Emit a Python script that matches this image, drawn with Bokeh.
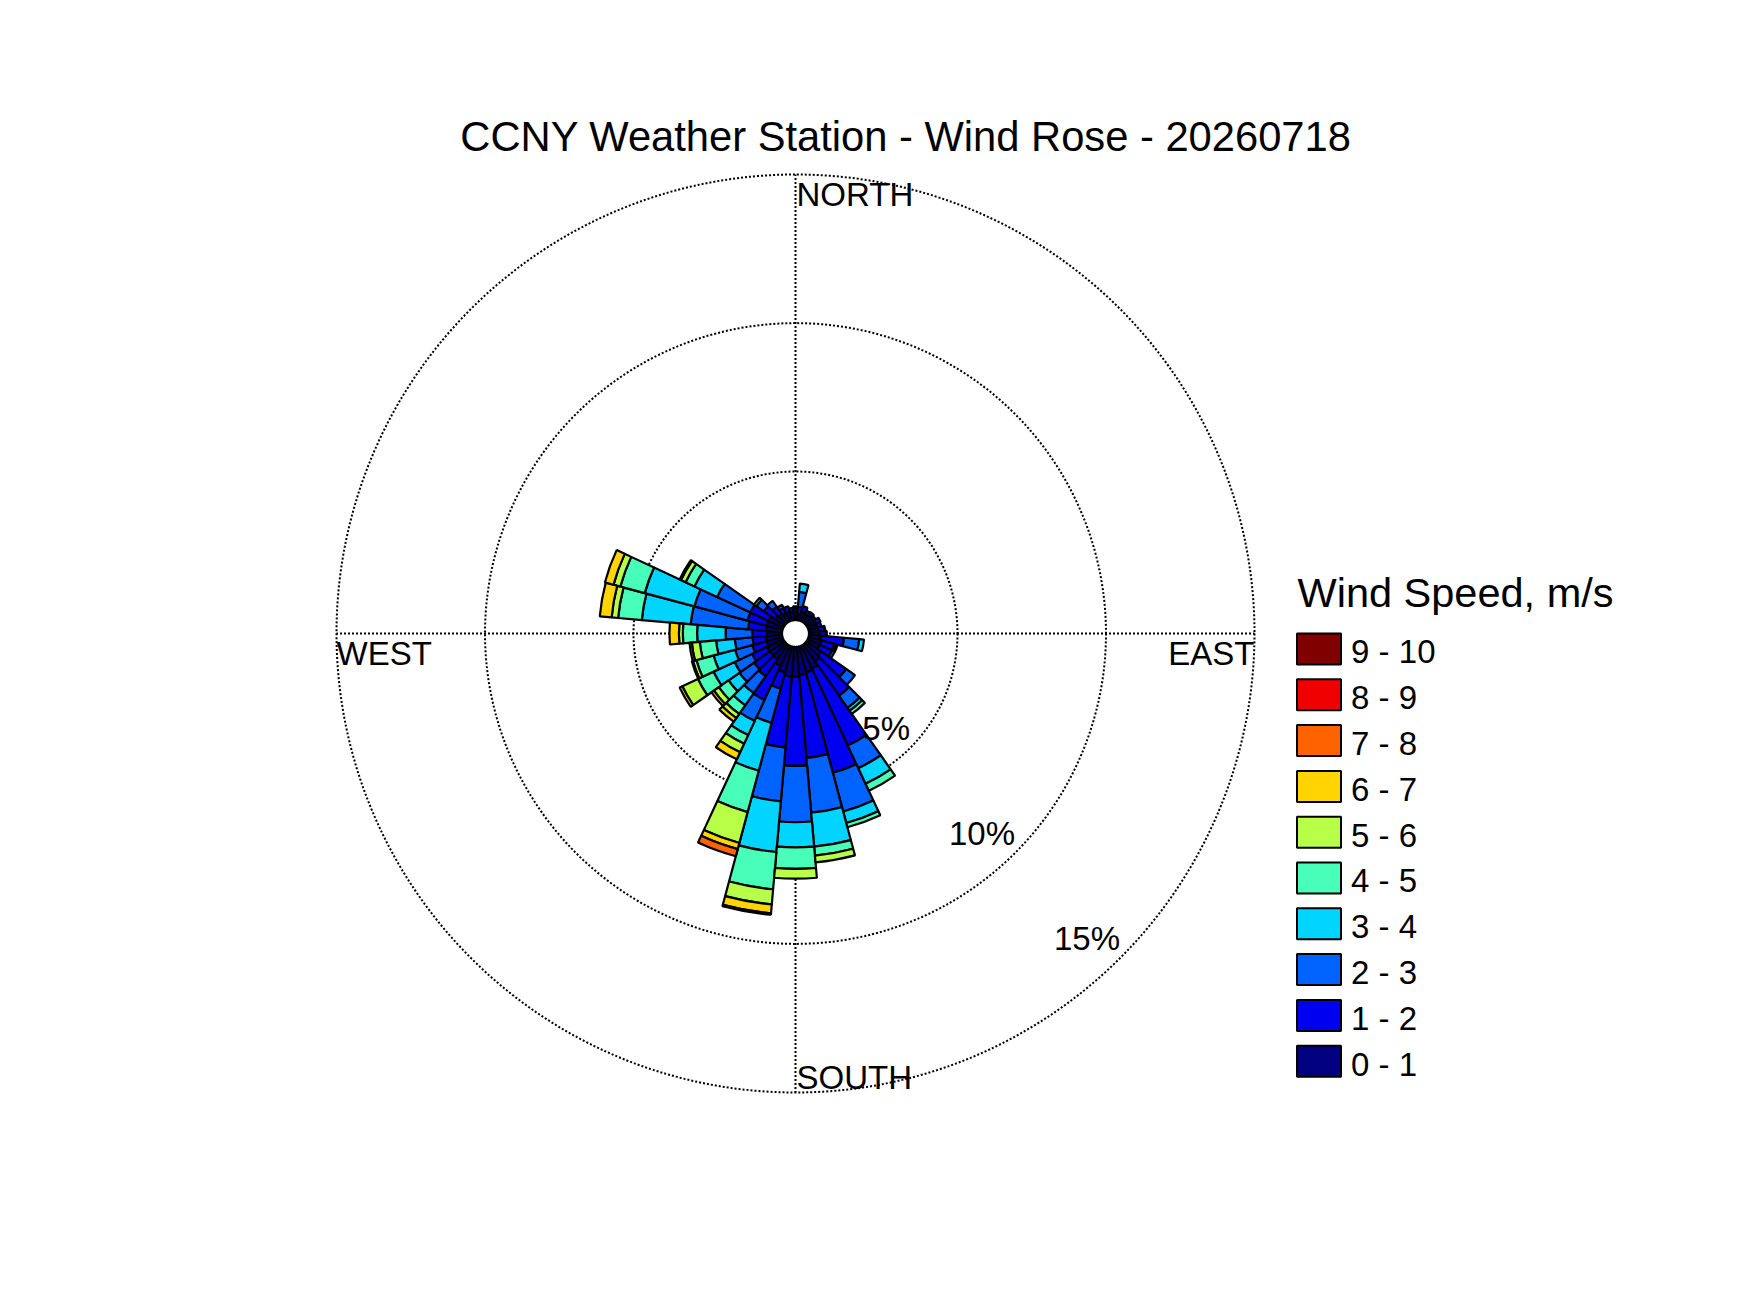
import numpy as np
from bokeh.plotting import figure
from bokeh.models import Range1d, ColumnDataSource
from bokeh.embed import file_html
from bokeh.resources import INLINE
from bokeh.core.properties import value

# ---------------- data (percent of observations) ----------------
directions = list(range(0, 360, 10))  # compass degrees, wind coming from
speed_labels = ["0 - 1", "1 - 2", "2 - 3", "3 - 4", "4 - 5",
                "5 - 6", "6 - 7", "7 - 8", "8 - 9", "9 - 10"]
ring_pcts = [5, 10, 15]
ring_labels = ["5%", "10%", "15%"]
title_text = "CCNY Weather Station - Wind Rose - 20260718"
legend_title = "Wind Speed, m/s"
compass_labels = ["NORTH", "EAST", "SOUTH", "WEST"]

s0_1 = [0.28, 0.20, 0.30, 0.28, 0.30, 0.28, 0.30, 0.30, 0.32, 0.35, 0.40, 0.45,
        0.45, 0.60, 0.70, 0.85, 0.90, 0.95, 1.00, 1.00, 0.90, 0.75, 0.60, 0.60,
        0.60, 0.55, 0.55, 0.50, 0.55, 0.55, 0.55, 0.40, 0.35, 0.30, 0.30, 0.28]
s1_2 = [0.12, 0.25, 0.20, 0.12, 0.12, 0.10, 0.18, 0.15, 0.20, 0.22, 0.79, 0.45,
        0.45, 1.03, 1.40, 2.86, 3.50, 2.80, 3.00, 2.40, 0.57, 1.27, 0.70, 0.65,
        0.56, 0.50, 0.45, 0.50, 0.60, 0.67, 0.68, 0.45, 0.30, 0.20, 0.19, 0.13]
s2_3 = [0.03, 0.50, 0.00, 0.00, 0.00, 0.00, 0.00, 0.00, 0.03, 0.03, 0.51, 0.06,
        0.10, 0.36, 0.50, 0.84, 1.35, 1.85, 1.90, 1.82, 1.19, 0.78, 0.70, 0.60,
        0.65, 0.60, 0.60, 0.90, 1.94, 1.85, 1.23, 0.30, 0.24, 0.11, 0.00, 0.00]
s3_4 = [0.03, 0.28, 0.00, 0.00, 0.00, 0.00, 0.00, 0.00, 0.00, 0.00, 0.16, 0.05,
        0.00, 0.00, 0.12, 0.58, 0.40, 1.15, 0.85, 1.71, 1.67, 0.52, 0.50, 0.45,
        0.78, 0.75, 0.63, 0.96, 1.65, 1.73, 0.84, 0.10, 0.00, 0.00, 0.00, 0.00]
s4_5 = [0.00, 0.00, 0.00, 0.00, 0.00, 0.00, 0.00, 0.00, 0.00, 0.00, 0.00, 0.00,
        0.00, 0.00, 0.13, 0.26, 0.15, 0.30, 0.72, 1.26, 1.44, 0.32, 0.35, 0.40,
        0.58, 0.60, 0.55, 0.48, 0.80, 0.85, 0.33, 0.00, 0.00, 0.00, 0.00, 0.00]
s5_6 = [0.00, 0.00, 0.00, 0.00, 0.00, 0.00, 0.00, 0.00, 0.00, 0.00, 0.00, 0.00,
        0.00, 0.00, 0.00, 0.00, 0.00, 0.23, 0.33, 0.51, 1.08, 0.32, 0.17, 0.20,
        0.58, 0.12, 0.27, 0.13, 0.22, 0.24, 0.17, 0.00, 0.00, 0.00, 0.00, 0.00]
s6_7 = [0.00, 0.00, 0.00, 0.00, 0.00, 0.00, 0.00, 0.00, 0.00, 0.00, 0.00, 0.00,
        0.00, 0.00, 0.00, 0.00, 0.00, 0.00, 0.00, 0.30, 0.21, 0.26, 0.15, 0.10,
        0.10, 0.04, 0.08, 0.32, 0.40, 0.30, 0.05, 0.00, 0.00, 0.00, 0.00, 0.00]
s7_8 = [0.00, 0.00, 0.00, 0.00, 0.00, 0.00, 0.00, 0.00, 0.00, 0.00, 0.00, 0.00,
        0.00, 0.00, 0.00, 0.00, 0.00, 0.00, 0.00, 0.05, 0.25, 0.00, 0.00, 0.00,
        0.00, 0.00, 0.00, 0.00, 0.00, 0.00, 0.00, 0.00, 0.00, 0.00, 0.00, 0.00]
s8_9 = [0.0] * 36
s9_10 = [0.0] * 36

speed_series = [s0_1, s1_2, s2_3, s3_4, s4_5, s5_6, s6_7, s7_8, s8_9, s9_10]

# ---------------- style ----------------
colors = ["#000080", "#0000F1", "#0063FF", "#00D4FF", "#47FFB8",
          "#B8FF47", "#FFD400", "#FF6300", "#F10000", "#800000"]
FONT = value("Liberation Sans")
S = 29.7            # pixels per percent
HOLE = 13.5 / S     # empty centre radius, in percent units
BIN = 10.0          # sector width, degrees
W, H = 1740, 1300
CX, CY = 795.0, 633.0   # centre of rose on the page (px)


def X(px):
    return (px - CX) / S


def Y(py):
    return (CY - py) / S


p = figure(width=W, height=H, output_backend="svg", toolbar_location=None,
           x_range=Range1d(-CX / S, (W - CX) / S),
           y_range=Range1d(-(H - CY) / S, CY / S),
           x_axis_type=None, y_axis_type=None, min_border=0)
p.grid.visible = False
p.outline_line_color = None
p.background_fill_color = "white"
p.border_fill_color = "white"

R_OUT = HOLE + ring_pcts[-1]

# dotted rings
p.circle(x=[0] * len(ring_pcts), y=[0] * len(ring_pcts),
         radius=[HOLE + r for r in ring_pcts], fill_color=None,
         line_color="black", line_width=2, line_dash="2 2")
# dotted axes
p.segment(x0=[HOLE, -HOLE, 0, 0], y0=[0, 0, HOLE, -HOLE],
          x1=[R_OUT, -R_OUT, 0, 0], y1=[0, 0, R_OUT, -R_OUT],
          line_color="black", line_width=2, line_dash="2 2")

# stacked sectors
inner_r, outer_r, start_a, end_a, fills = [], [], [], [], []
cum = np.zeros(len(directions))
for k, series in enumerate(speed_series):
    vals = np.array(series, dtype=float)
    for i, d in enumerate(directions):
        if vals[i] > 0:
            phi = 90.0 - d
            inner_r.append(HOLE + cum[i])
            outer_r.append(HOLE + cum[i] + vals[i])
            start_a.append(np.radians(phi - BIN / 2))
            end_a.append(np.radians(phi + BIN / 2))
            fills.append(colors[k])
    cum += vals

src = ColumnDataSource(dict(x=[0.0] * len(inner_r), y=[0.0] * len(inner_r),
                            ir=inner_r, orr=outer_r, sa=start_a, ea=end_a,
                            c=fills))
p.annular_wedge(x="x", y="y", inner_radius="ir", outer_radius="orr",
                start_angle="sa", end_angle="ea", fill_color="c",
                line_color="black", line_width=2.2, source=src)

# ring percentage labels along the SE diagonal
diag = np.cos(np.radians(45))
p.text(x=[(HOLE + r) * diag for r in ring_pcts],
       y=[-(HOLE + r) * diag for r in ring_pcts],
       text=ring_labels, text_font=FONT, text_font_size="33px",
       text_align="right", text_baseline="alphabetic", x_offset=0,
       y_offset=-20, text_color="black")

# compass labels
lab = dict(text_font=FONT, text_font_size="33px", text_baseline="alphabetic",
           y_offset=-14)
p.text(x=[X(796)], y=[Y(208)], text=[compass_labels[0]], text_align="left", **lab)
p.text(x=[X(796)], y=[Y(1091)], text=[compass_labels[2]], text_align="left", **lab)
p.text(x=[-R_OUT], y=[Y(667)], text=[compass_labels[3]], text_align="left", **lab)
p.text(x=[R_OUT], y=[Y(667)], text=[compass_labels[1]], text_align="right", **lab)

# title
p.text(x=[X(905.5)], y=[Y(154)], text=[title_text], text_font=FONT,
       text_font_size="41.7px", text_align="center", text_baseline="alphabetic",
       y_offset=-18)

# legend
step = 45.8
order = list(range(len(speed_labels)))[::-1]  # top: 9 - 10
box_cy = [648.5 + j * step for j in range(len(order))]
p.rect(x=[X(1318.5)] * len(order), y=[Y(c) for c in box_cy],
       width=44 / S, height=31 / S,
       fill_color=[colors[k] for k in order], line_color="black", line_width=2)
p.text(x=[X(1350.6)] * len(order), y=[Y(c + 13.9) for c in box_cy],
       text=[speed_labels[k] for k in order], text_font=FONT,
       text_font_size="33px", text_align="left", text_baseline="alphabetic",
       y_offset=-11)
p.text(x=[X(1297)], y=[Y(607)], text=[legend_title], text_font=FONT,
       text_font_size="41.5px", text_align="left", text_baseline="alphabetic",
       y_offset=-15)

open("out.html", "w").write(file_html(p, INLINE))
